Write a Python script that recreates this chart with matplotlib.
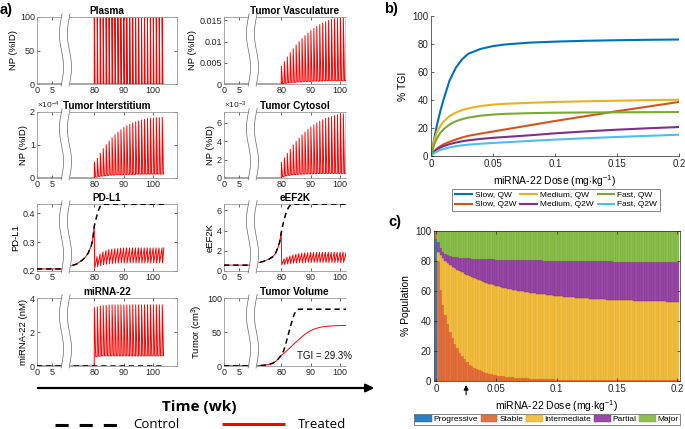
import numpy as np
import matplotlib
matplotlib.use("Agg")
import matplotlib.pyplot as plt
from matplotlib.lines import Line2D

W, H = 685, 429
plt.rcParams['font.family'] = 'Liberation Sans'
plt.rcParams['mathtext.fontset'] = 'custom'
plt.rcParams['mathtext.rm'] = 'Liberation Sans'
plt.rcParams['mathtext.it'] = 'Liberation Sans:italic'
plt.rcParams['mathtext.bf'] = 'Liberation Sans:bold'

RED = '#ff0000'
BLUE, ORANGE, YELLOW = '#0072BD', '#D95319', '#EDB120'
PURPLE, GREEN, CYAN = '#7E2F8E', '#77AC30', '#4DBEEE'

# ---------------- panel a data (time in weeks) ----------------
dose_wk = [80, 81, 82, 83, 84, 85, 86, 87, 88, 89, 90, 91,
           92, 93, 94, 95, 96, 97, 98, 99, 100, 101, 102, 103]
t_end = 103.6
flat_t = [0, 10, 71.5, 80]          # no drug before first dose

plasma_peak = [100] * 24
plasma_base = [0] * 25

vasc_peak = [0.0042, 0.0053, 0.0064, 0.0074, 0.0083, 0.0092, 0.0100, 0.0107,
             0.0114, 0.0120, 0.0126, 0.0131, 0.0136, 0.0140, 0.0144, 0.0147,
             0.0150, 0.0152, 0.0154, 0.0155, 0.0156, 0.0157, 0.0157, 0.0157]
vasc_base = [0, 0.0001, 0.0002, 0.0003, 0.0004, 0.0004, 0.0005, 0.0005, 0.0006,
             0.0006, 0.0006, 0.0007, 0.0007, 0.0007, 0.0007, 0.0008, 0.0008,
             0.0008, 0.0008, 0.0008, 0.0008, 0.0008, 0.0008, 0.0008, 0.0008]

# interstitium in units of 1e-4 %ID
inter_peak = [0.49, 0.60, 0.75, 0.89, 1.01, 1.12, 1.22, 1.31, 1.39, 1.46, 1.53, 1.58,
              1.63, 1.67, 1.70, 1.73, 1.76, 1.78, 1.80, 1.81, 1.82, 1.83, 1.83, 1.84]
inter_base = [0, 0.03, 0.05, 0.06, 0.07, 0.08, 0.09, 0.09, 0.10, 0.10, 0.10, 0.11, 0.11,
              0.11, 0.11, 0.12, 0.12, 0.12, 0.12, 0.12, 0.12, 0.12, 0.12, 0.12, 0.12]

# cytosol in units of 1e-3 %ID
cyto_peak = [1.70, 2.20, 2.70, 3.15, 3.60, 4.00, 4.35, 4.70, 5.00, 5.30, 5.55, 5.80,
             6.00, 6.20, 6.35, 6.50, 6.60, 6.70, 6.80, 6.90, 6.95, 7.00, 7.05, 7.10]
cyto_base = [0, 0.15, 0.25, 0.30, 0.35, 0.38, 0.40, 0.42, 0.44, 0.45, 0.46, 0.47, 0.48,
             0.49, 0.50, 0.50, 0.50, 0.50, 0.50, 0.50, 0.50, 0.50, 0.50, 0.50, 0.50]

pdl1_pre_t = [0, 10, 71.5, 74, 76, 77, 78, 79, 79.5, 80]
pdl1_pre = [0.207, 0.207, 0.216, 0.224, 0.238, 0.248, 0.263, 0.287, 0.310, 0.355]
pdl1_ctrl_t = [80.5, 81, 81.5, 82, 82.5, 83, 104]
pdl1_ctrl = [0.376, 0.396, 0.412, 0.423, 0.429, 0.431, 0.431]
pdl1_low = [0.210, 0.215, 0.219, 0.222, 0.224, 0.225, 0.226, 0.227, 0.228, 0.228, 0.228, 0.228,
            0.228, 0.228, 0.228, 0.228, 0.228, 0.228, 0.228, 0.228, 0.228, 0.228, 0.228, 0.228]
pdl1_high = [0.250, 0.259, 0.266, 0.271, 0.274, 0.276, 0.277, 0.278, 0.279, 0.280, 0.280, 0.280,
             0.280, 0.280, 0.280, 0.280, 0.280, 0.280, 0.280, 0.280, 0.280, 0.280, 0.280, 0.280]

eef_pre_t = [0, 10, 71.5, 74, 76, 77, 78, 79, 79.5, 80]
eef_pre = [0.58, 0.58, 0.76, 0.95, 1.20, 1.38, 1.70, 2.40, 2.90, 3.78]
eef_ctrl_t = [80.5, 81, 81.5, 82, 82.5, 83, 83.5, 84, 104]
eef_ctrl = [4.5, 5.1, 5.6, 6.0, 6.3, 6.48, 6.56, 6.6, 6.6]
eef_low = [0.60, 0.66, 0.71, 0.75, 0.78, 0.80, 0.82, 0.83, 0.84, 0.85, 0.85, 0.85,
           0.85, 0.85, 0.85, 0.85, 0.85, 0.85, 0.85, 0.85, 0.85, 0.85, 0.85, 0.85]
eef_high = [1.20, 1.36, 1.49, 1.59, 1.66, 1.72, 1.76, 1.79, 1.81, 1.83, 1.84, 1.85,
            1.85, 1.85, 1.85, 1.85, 1.85, 1.85, 1.85, 1.85, 1.85, 1.85, 1.85, 1.85]

mir_peak = [3.44, 3.48, 3.52, 3.55, 3.57, 3.59, 3.60, 3.60, 3.60, 3.60, 3.60, 3.60,
            3.60, 3.60, 3.60, 3.60, 3.60, 3.60, 3.60, 3.60, 3.60, 3.60, 3.60, 3.60]
mir_base = [0, 0.55, 0.58, 0.60, 0.60, 0.60, 0.60, 0.60, 0.60, 0.60, 0.60, 0.60, 0.60,
            0.60, 0.60, 0.60, 0.60, 0.60, 0.60, 0.60, 0.60, 0.60, 0.60, 0.60, 0.60]
mir_ctrl_t = [0, 10, 71.5, 104]
mir_ctrl = [0, 0, 0, 0]

tum_pre_t = [0, 10, 71.5, 74, 76, 77, 78, 79, 80]
tum_pre = [0.3, 0.3, 0.5, 1.0, 2.5, 3.8, 6.5, 10.5, 15.5]
tum_ctrl_t = [80.5, 81, 81.5, 82, 82.5, 83, 83.5, 84, 84.5, 85, 85.5, 86, 104]
tum_ctrl = [19, 25, 32, 40, 48, 56, 64, 71, 77, 81, 83, 83.5, 83.5]
tum_trt_t = [81, 82, 83, 84, 85, 86, 87, 88, 89, 90, 91, 92, 93, 94, 96, 98, 100, 104]
tum_trt = [19, 23, 27, 31, 35, 39, 43, 46.5, 49.5, 52, 54, 55.5, 56.7, 57.6, 58.6,
           59.2, 59.5, 59.6]

# ---------------- panel b data ----------------
dose_b = [0, 0.0025, 0.005, 0.0075, 0.01, 0.015, 0.02, 0.025, 0.03, 0.04, 0.05,
          0.06, 0.08, 0.1, 0.125, 0.15, 0.175, 0.2]
tgi_slow_qw = [0, 12, 23, 32, 40, 54, 63, 69, 73, 76.5, 78.5, 79.7, 81, 81.7, 82.3, 82.7, 83, 83.2]
tgi_med_qw = [0, 11, 17.5, 21.5, 24.5, 28.5, 31, 32.8, 34, 35.7, 36.7, 37.3, 38, 38.6, 39.1, 39.5, 39.9, 40.2]
tgi_fast_qw = [0, 8, 13, 16.5, 19, 22.5, 24.8, 26.3, 27.4, 28.8, 29.6, 30.1, 30.6, 30.9, 31.1, 31.2, 31.3, 31.4]
tgi_slow_q2w = [0, 3.5, 5.5, 7, 8.3, 10.2, 11.8, 13.2, 14.4, 16, 17.5, 19, 22, 25, 28.5, 32, 35.3, 38.6]
tgi_med_q2w = [0, 3, 4.8, 6, 7, 8.5, 9.6, 10.5, 11.2, 12.2, 13, 13.6, 14.8, 16.2, 17.6, 18.8, 19.8, 20.7]
tgi_fast_q2w = [0, 2, 3.3, 4.3, 5, 6.2, 7, 7.6, 8.1, 8.8, 9.3, 9.8, 10.8, 11.7, 12.7, 13.6, 14.4, 15.2]

# ---------------- panel c data (cumulative tops, %) ----------------
dose_c = np.round(np.arange(101) * 0.002, 3)
prog_top = [95] + [0] * 100
stable_top = [100,
    80, 61, 51, 44, 38, 33, 28.5, 25, 22, 19,
    16.5, 14.5, 12.5, 11, 9.8, 8.8, 8.0, 7.2, 6.5, 5.9,
    5.4, 4.9, 4.5, 4.1, 3.8, 3.5, 3.3, 3.1, 2.9, 2.7,
    2.5, 2.4, 2.2, 2.1, 2.0, 1.9, 1.8, 1.7, 1.6, 1.5,
    1.45, 1.4, 1.35, 1.3, 1.25, 1.2, 1.15, 1.1, 1.05, 1.0,
    0.98, 0.95, 0.92, 0.9, 0.88, 0.85, 0.83, 0.8, 0.78, 0.76,
    0.74, 0.72, 0.7, 0.68, 0.66, 0.65, 0.63, 0.62, 0.6, 0.59,
    0.58, 0.57, 0.56, 0.55, 0.54, 0.53, 0.52, 0.51, 0.5, 0.49,
    0.48, 0.48, 0.47, 0.47, 0.46, 0.46, 0.45, 0.45, 0.44, 0.44,
    0.43, 0.43, 0.42, 0.42, 0.41, 0.41, 0.4, 0.4, 0.39, 0.39]
inter_top = [100,
    86, 84, 82, 80.3, 78.8, 77.5, 76.3, 75.3, 74.3, 73.3,
    72.4, 71.5, 70.7, 70, 69.3, 68.6, 68, 67.3, 66.7, 66.1,
    65.5, 65, 64.5, 64, 63.5, 63.1, 62.7, 62.3, 61.9, 61.5,
    61.2, 60.9, 60.6, 60.3, 60, 59.7, 59.4, 59.2, 58.9, 58.7,
    58.5, 58.3, 58.1, 57.9, 57.7, 57.5, 57.3, 57.1, 56.9, 56.8,
    56.6, 56.5, 56.3, 56.2, 56.0, 55.9, 55.8, 55.6, 55.5, 55.4,
    55.3, 55.2, 55.1, 55.0, 54.9, 54.8, 54.7, 54.6, 54.5, 54.4,
    54.3, 54.3, 54.2, 54.1, 54.0, 54.0, 53.9, 53.8, 53.8, 53.7,
    53.7, 53.6, 53.6, 53.5, 53.5, 53.4, 53.4, 53.3, 53.3, 53.2,
    53.2, 53.2, 53.1, 53.1, 53.1, 53.0, 53.0, 53.0, 52.9, 52.9]
partial_top = [100,
    93, 88.5, 86, 84.8, 84, 83.4, 83, 82.7, 82.4, 82.2,
    82.0, 81.9, 81.8, 81.7, 81.6, 81.5, 81.5, 81.4, 81.3, 81.3,
    81.2, 81.2, 81.1, 81.1, 81.0, 81.0, 80.9, 80.9, 80.8, 80.8,
    80.8, 80.7, 80.7, 80.7, 80.6, 80.6, 80.6, 80.5, 80.5, 80.5,
    80.4, 80.4, 80.4, 80.4, 80.3, 80.3, 80.3, 80.3, 80.2, 80.2,
    80.2, 80.2, 80.1, 80.1, 80.1, 80.1, 80.0, 80.0, 80.0, 80.0,
    79.9, 79.9, 79.9, 79.9, 79.8, 79.8, 79.8, 79.8, 79.7, 79.7,
    79.7, 79.7, 79.7, 79.6, 79.6, 79.6, 79.6, 79.6, 79.5, 79.5,
    79.5, 79.5, 79.5, 79.4, 79.4, 79.4, 79.4, 79.4, 79.4, 79.3,
    79.3, 79.3, 79.3, 79.3, 79.3, 79.2, 79.2, 79.2, 79.2, 79.2]


def tmap(t):
    # broken time axis: weeks 10..~71 are cut out
    t = np.asarray(t, float)
    return np.where(t <= 40, t, t - 60.6)


def spike_trace(doses, base, peak, rise=0.05, fall=0.45):
    t, y = list(flat_t), [0, 0, 0, 0]
    for i, d in enumerate(doses):
        t += [d, d + rise, d + fall]
        y += [base[i], peak[i], base[i + 1]]
    t.append(t_end)
    y.append(base[-1])
    return tmap(t), y


def zigzag_trace(pre_t, pre, doses, low, high, drop=0.15):
    t, y = list(pre_t), list(pre)
    for i, d in enumerate(doses):
        t += [d + drop, min(d + 0.97, t_end)]
        y += [low[i], high[i]]
    return tmap(t), y


fig = plt.figure(figsize=(W / 100, H / 100), dpi=100)


def px_axes(l, t, r, b):
    return fig.add_axes([l / W, 1 - b / H, (r - l) / W, (b - t) / H])


XL, XR = 140 / 2.95, 122 / 2.95
cols = [(37, 177), (224, 346)]
rows = [(17, 84), (112, 178), (204, 271), (298, 366)]
yy = np.linspace(-0.03, 1.05, 60)


def setup_a(ax, col, title, ylabel, ylim, yticks, yticklabels, offset=None):
    ax.set_xlim(0, XL if col == 0 else XR)
    ax.set_ylim(*ylim)
    ax.set_xticks(tmap([0, 5, 80, 90, 100]))
    ax.set_xticklabels(['0', '5', '80', '90', '100'])
    ax.set_yticks(yticks)
    ax.set_yticklabels(yticklabels)
    ax.tick_params(direction='in', length=2, width=0.5, labelsize=6.5, pad=1.5,
                   colors='#262626', top=True, right=(col == 0))
    for s in ax.spines.values():
        s.set_color('#999999')
        s.set_linewidth(0.6)
    if col == 1:
        ax.spines['right'].set_visible(False)
    ax.set_title(title, fontsize=7.2, fontweight='bold', pad=2,
                 x=0.5 if col == 0 else 0.58)
    ax.set_ylabel(ylabel, fontsize=6.8, labelpad=1.5)
    if offset:
        ax.text(0, 1.01, offset, transform=ax.transAxes, fontsize=6,
                ha='left', va='bottom', color='#262626')
    tr = ax.get_xaxis_transform()
    w = 0.7 * np.sin(2 * np.pi * yy)
    ax.fill_betweenx(yy, 8.3 + w, 11.0 + w, color='white', transform=tr,
                     zorder=5, clip_on=False, lw=0)
    for c in (8.3, 11.0):
        ax.plot(c + w, yy, color='#666666', lw=0.5, transform=tr,
                zorder=6, clip_on=False)


def ctrl(ax, t, y):
    ax.plot(tmap(t), y, color='k', lw=1.1, dashes=(3.5, 2.5), zorder=3)


def trt(ax, t, y):
    ax.plot(t, y, color=RED, lw=0.7, zorder=2)


# Plasma
ax = px_axes(cols[0][0], rows[0][0], cols[0][1], rows[0][1])
trt(ax, *spike_trace(dose_wk, plasma_base, plasma_peak, rise=0.03, fall=0.25))
setup_a(ax, 0, 'Plasma', 'NP (%ID)', (0, 100), [0, 50, 100], ['0', '50', '100'])

# Tumor vasculature
ax = px_axes(cols[1][0], rows[0][0], cols[1][1], rows[0][1])
trt(ax, *spike_trace(dose_wk, vasc_base, vasc_peak))
setup_a(ax, 1, 'Tumor Vasculature', 'NP (%ID)', (0, 0.0158), [0, 0.005, 0.01, 0.015],
        ['0', '0.005', '0.01', '0.015'])

# Tumor interstitium
ax = px_axes(cols[0][0], rows[1][0], cols[0][1], rows[1][1])
trt(ax, *spike_trace(dose_wk, inter_base, inter_peak))
setup_a(ax, 0, 'Tumor Interstitium', 'NP (%ID)', (0, 2), [0, 1, 2], ['0', '1', '2'],
        offset=r'$\times10^{-4}$')

# Tumor cytosol
ax = px_axes(cols[1][0], rows[1][0], cols[1][1], rows[1][1])
trt(ax, *spike_trace(dose_wk, cyto_base, cyto_peak))
setup_a(ax, 1, 'Tumor Cytosol', 'NP (%ID)', (0, 7.2), [0, 2, 4, 6], ['0', '2', '4', '6'],
        offset=r'$\times10^{-3}$')

# PD-L1
ax = px_axes(cols[0][0], rows[2][0], cols[0][1], rows[2][1])
trt(ax, *zigzag_trace(pdl1_pre_t, pdl1_pre, dose_wk, pdl1_low, pdl1_high))
ctrl(ax, pdl1_pre_t + pdl1_ctrl_t, pdl1_pre + pdl1_ctrl)
setup_a(ax, 0, 'PD-L1', 'PD-L1', (0.2, 0.432), [0.2, 0.3, 0.4], ['0.2', '0.3', '0.4'])

# eEF2K
ax = px_axes(cols[1][0], rows[2][0], cols[1][1], rows[2][1])
trt(ax, *zigzag_trace(eef_pre_t, eef_pre, dose_wk, eef_low, eef_high))
ctrl(ax, eef_pre_t + eef_ctrl_t, eef_pre + eef_ctrl)
setup_a(ax, 1, 'eEF2K', 'eEF2K', (0, 6.62), [0, 2, 4, 6], ['0', '2', '4', '6'])

# miRNA-22
ax = px_axes(cols[0][0], rows[3][0], cols[0][1], rows[3][1])
trt(ax, *spike_trace(dose_wk, mir_base, mir_peak, fall=0.5))
ctrl(ax, mir_ctrl_t, mir_ctrl)
setup_a(ax, 0, 'miRNA-22', 'miRNA-22 (nM)', (0, 4), [0, 2, 4], ['0', '2', '4'])

# Tumor volume
ax = px_axes(cols[1][0], rows[3][0], cols[1][1], rows[3][1])
trt(ax, tmap(tum_pre_t + tum_trt_t), tum_pre + tum_trt)
ctrl(ax, tum_pre_t + tum_ctrl_t, tum_pre + tum_ctrl)
setup_a(ax, 1, 'Tumor Volume', r'Tumor (cm$^3$)', (0, 100), [0, 50, 100],
        ['0', '50', '100'])
ax.text(0.6, 0.15, 'TGI = 29.3%', transform=ax.transAxes, fontsize=7,
        ha='left', va='center', color='#111111')


def style_bc(ax, box):
    ax.tick_params(direction='in', length=2.5, width=0.5, labelsize=7, pad=2,
                   colors='#262626', top=box, right=box)
    for s in ax.spines.values():
        s.set_color('#262626')
        s.set_linewidth(0.5)
    if not box:
        ax.spines['top'].set_visible(False)
        ax.spines['right'].set_visible(False)
    ax.set_xticks([0, 0.05, 0.1, 0.15, 0.2])
    ax.set_xticklabels(['0', '0.05', '0.1', '0.15', '0.2'])
    ax.set_yticks([0, 20, 40, 60, 80, 100])
    ax.set_ylim(0, 100)
    ax.set_xlabel(r'miRNA-22 Dose (mg$\cdot$kg$^{-1}$)', fontsize=7.5, labelpad=3)


# ---------------- panel b ----------------
axb = px_axes(431, 16, 679, 156)
series_b = [(tgi_slow_qw, BLUE, 'Slow, QW'), (tgi_slow_q2w, ORANGE, 'Slow, Q2W'),
            (tgi_med_qw, YELLOW, 'Medium, QW'), (tgi_med_q2w, PURPLE, 'Medium, Q2W'),
            (tgi_fast_qw, GREEN, 'Fast, QW'), (tgi_fast_q2w, CYAN, 'Fast, Q2W')]
for vals, col, lab in series_b:
    axb.plot(dose_b, vals, color=col, lw=1.5, label=lab)
axb.set_xlim(0, 0.2)
style_bc(axb, False)
axb.set_ylabel('% TGI', fontsize=7.5, labelpad=3)
axb.legend(loc='upper center', bbox_to_anchor=(556 / W, 1 - 189 / H),
           bbox_transform=fig.transFigure, ncol=3, fontsize=6, frameon=True,
           fancybox=False, edgecolor='#262626', borderpad=0.3, labelspacing=0.15,
           handlelength=2.0, handletextpad=0.35, columnspacing=0.5,
           borderaxespad=0).get_frame().set_linewidth(0.5)

# ---------------- panel c ----------------
axc = px_axes(434, 231, 680, 381)
prog_top = np.array(prog_top, float)
stable_top = np.array(stable_top, float)
inter_top = np.array(inter_top, float)
partial_top = np.array(partial_top, float)
layers = [
    ('Progressive', np.zeros(101), prog_top, '#2b80c3', BLUE),
    ('Stable', prog_top, stable_top, '#e27442', ORANGE),
    ('Intermediate', stable_top, inter_top, '#f2bf47', '#e3a91c'),
    ('Partial', inter_top, partial_top, '#9a4aa6', PURPLE),
    ('Major', partial_top, np.full(101, 100.0), '#8cbf50', GREEN),
]
for lab, lo, hi, face, edge in layers:
    axc.bar(dose_c, hi - lo, bottom=lo, width=0.002, color=face,
            edgecolor=edge, linewidth=0.3, label=lab)
axc.set_xlim(-0.0016, 0.2022)
style_bc(axc, True)
axc.set_ylabel('% Population', fontsize=7.5, labelpad=3)
axc.annotate('', xy=(0.025, -0.008), xycoords=axc.get_xaxis_transform(),
             xytext=(0.025, -0.11), textcoords=axc.get_xaxis_transform(),
             arrowprops=dict(arrowstyle='-|>', color='k', lw=0.8, mutation_scale=7),
             annotation_clip=False)
axc.legend(loc='upper center', bbox_to_anchor=(547 / W, 1 - 414 / H),
           bbox_transform=fig.transFigure, ncol=5, fontsize=6, frameon=True,
           fancybox=False, edgecolor='#262626', borderpad=0.15, handlelength=2.0,
           handleheight=0.8, handletextpad=0.25, columnspacing=0.3,
           borderaxespad=0).get_frame().set_linewidth(0.5)

# ---------------- overlay: panel letters, time arrow, legend ----------------
ov = fig.add_axes([0, 0, 1, 1])
ov.set_xlim(0, W)
ov.set_ylim(H, 0)
ov.axis('off')
for txt, x, y in [('a)', 6, 10), ('b)', 391, 9), ('c)', 395, 222)]:
    ov.text(x, y, txt, fontsize=10.5, fontweight='bold', ha='center', va='center')
ov.annotate('', xy=(377, 388), xytext=(35, 388),
            arrowprops=dict(arrowstyle='-|>', color='k', lw=1.6, mutation_scale=12))
ov.text(199, 407, 'Time (wk)', fontsize=11, fontweight='bold', family='Open Sans',
        ha='center', va='center')
ov.add_line(Line2D([55, 117], [425, 425], color='k', lw=2.2, dashes=(4.3, 3.6),
                   solid_capstyle='butt', dash_capstyle='butt'))
ov.text(133, 424, 'Control', fontsize=9.5, family='Open Sans', ha='left', va='center')
ov.add_line(Line2D([222, 285], [424, 424], color=RED, lw=2.2, solid_capstyle='butt'))
ov.text(298, 424, 'Treated', fontsize=9.5, family='Open Sans', ha='left', va='center')

fig.savefig('out.png', dpi=100)
